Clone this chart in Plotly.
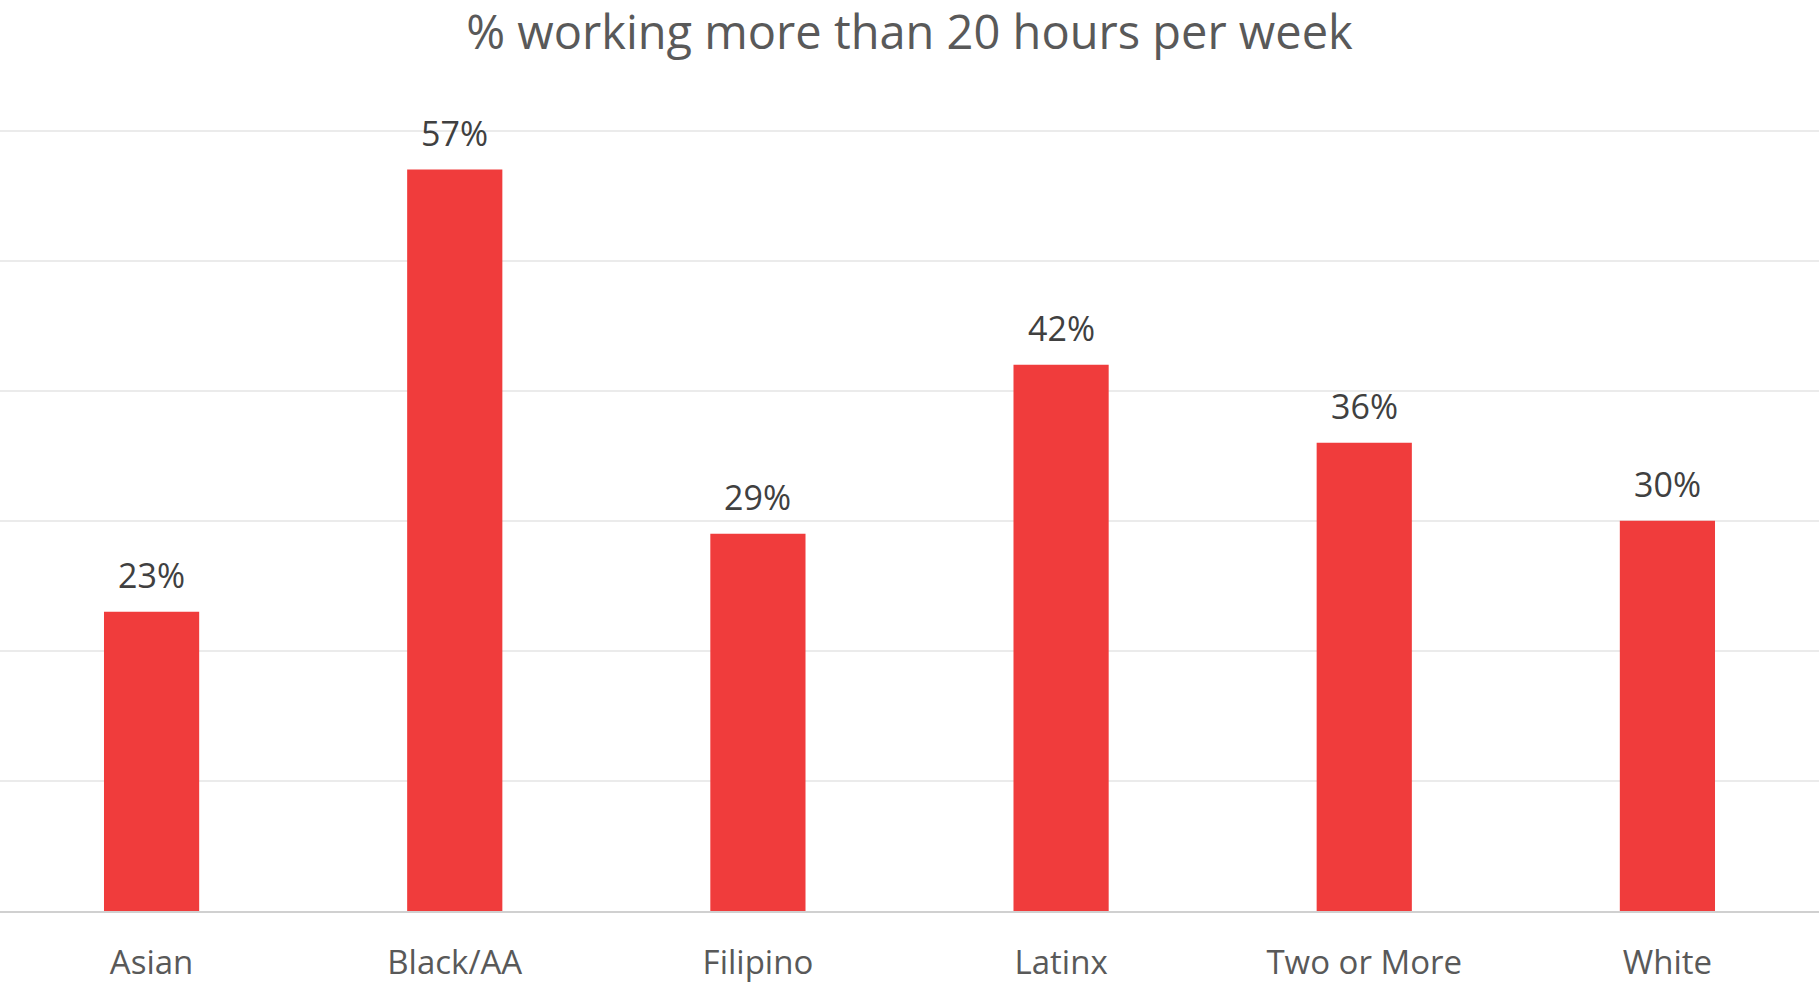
import plotly.graph_objects as go

categories = ["Asian", "Black/AA", "Filipino", "Latinx", "Two or More", "White"]
values = [23, 57, 29, 42, 36, 30]
labels = ["23%", "57%", "29%", "42%", "36%", "30%"]

fig = go.Figure()
fig.add_trace(go.Bar(
    x=categories, y=values,
    marker=dict(color="#F03C3C", line=dict(width=0)),
    hoverinfo="skip",
))

for c, v, t in zip(categories, values, labels):
    fig.add_annotation(x=c, y=v, text=t, showarrow=False, yanchor="bottom",
                       yshift=12, font=dict(family="Open Sans", size=34, color="#404040"))

fig.update_layout(
    width=1819, height=984,
    margin=dict(l=0, r=0, t=128, b=73, autoexpand=False),
    paper_bgcolor="white", plot_bgcolor="white",
    bargap=0.686,
    showlegend=False,
    title=dict(text="% working more than 20 hours per week", x=0.5, xanchor="center",
               y=1 - 33 / 984, yanchor="middle",
               font=dict(family="Open Sans", size=47, color="#595959")),
    xaxis=dict(showgrid=False, showline=True, linecolor="#D0D0D0", linewidth=2,
               ticks="", tickfont=dict(family="Open Sans", size=33, color="#595959"),
               ticklabelstandoff=21, automargin=False),
    yaxis=dict(range=[0, 60.2], dtick=10, showgrid=True, gridcolor="#EBEBEB", gridwidth=2,
               showticklabels=False, zeroline=False, ticks="", automargin=False),
)

fig.write_html("out.html", config={"displayModeBar": False},
               post_script="document.body.style.margin='0';document.body.style.overflow='hidden';")
